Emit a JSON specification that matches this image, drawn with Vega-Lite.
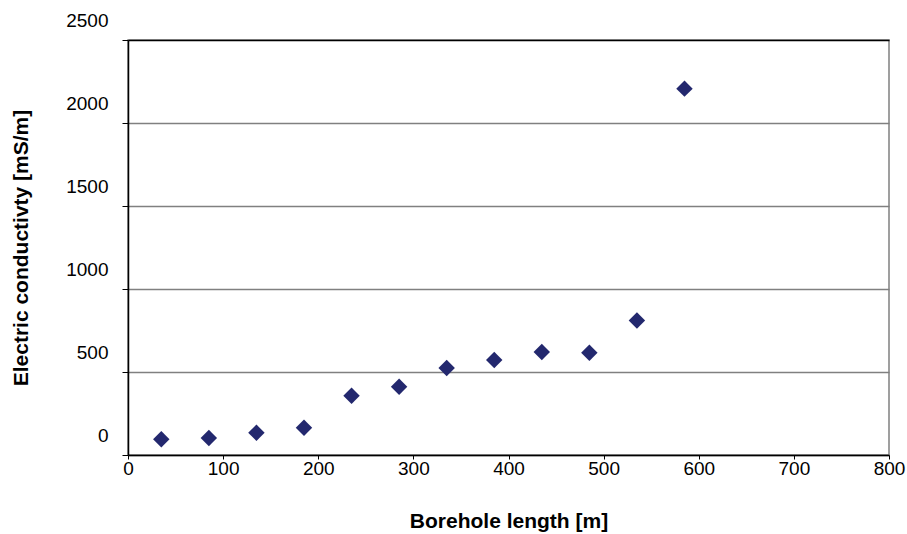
{
  "$schema": "https://vega.github.io/schema/vega-lite/v6.json",
  "autosize": {"type": "none"},
  "padding": {"left": 128, "top": 40, "right": 18, "bottom": 79},
  "width": 761,
  "height": 415,
  "background": "white",
  "config": {
    "view": {"stroke": "#808080", "strokeWidth": 1.5},
    "font": "Liberation Sans"
  },
  "data": {
    "values": [
      {"length": 35, "ec": 95},
      {"length": 85, "ec": 102},
      {"length": 135, "ec": 134},
      {"length": 185, "ec": 164},
      {"length": 235, "ec": 357},
      {"length": 285, "ec": 411},
      {"length": 335, "ec": 524},
      {"length": 385, "ec": 572},
      {"length": 435, "ec": 620},
      {"length": 485, "ec": 616},
      {"length": 535, "ec": 810},
      {"length": 585, "ec": 2207}
    ]
  },
  "mark": {"type": "point", "shape": "diamond", "filled": true, "size": 270, "color": "#23286e", "opacity": 1},
  "encoding": {
    "x": {
      "field": "length",
      "type": "quantitative",
      "scale": {"domain": [0, 800], "nice": false, "zero": true},
      "axis": {
        "title": "Borehole length [m]",
        "values": [0, 100, 200, 300, 400, 500, 600, 700, 800],
        "format": "d",
        "grid": false,
        "domainColor": "black",
        "domainWidth": 1.5,
        "tickColor": "black",
        "tickSize": 4,
        "labelPadding": 0,
        "labelFontSize": 19,
        "labelColor": "black",
        "labelFont": "Liberation Sans",
        "labelFlush": false,
        "titleFont": "Liberation Sans",
        "titleFontSize": 21,
        "titleFontWeight": "bold",
        "titleColor": "black",
        "titlePadding": 32
      }
    },
    "y": {
      "field": "ec",
      "type": "quantitative",
      "scale": {"domain": [0, 2500], "nice": false},
      "axis": {
        "title": "Electric conductivty [mS/m]",
        "values": [0, 500, 1000, 1500, 2000, 2500],
        "format": "d",
        "grid": true,
        "gridColor": {"condition": {"test": "datum.value == 2500", "value": "black"}, "value": "#808080"},
        "gridWidth": 1.5,
        "domainColor": "black",
        "domainWidth": 1.5,
        "tickColor": "black",
        "tickSize": 6,
        "labelPadding": 14,
        "labelOffset": -20,
        "labelFontSize": 19,
        "labelColor": "black",
        "labelFont": "Liberation Sans",
        "labelFlush": false,
        "titleFont": "Liberation Sans",
        "titleFontSize": 21,
        "titleFontWeight": "bold",
        "titleColor": "black",
        "titlePadding": 34
      }
    }
  }
}
